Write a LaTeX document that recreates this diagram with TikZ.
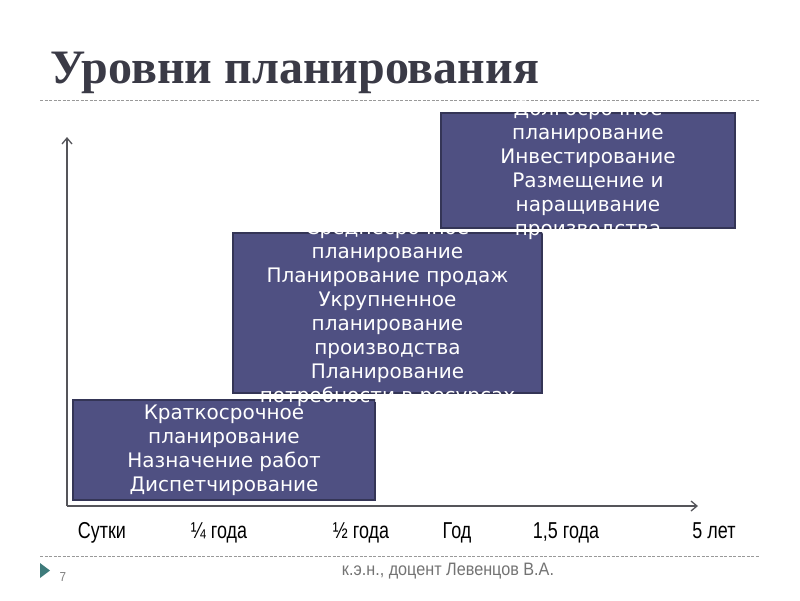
\documentclass[tikz,border=0pt]{standalone}
\usepackage{fontspec}
\usetikzlibrary{arrows.meta}
\newfontfamily\boxfont{DejaVu Sans}
\newfontfamily\titlefont{Liberation Serif}
\newfontfamily\narrowfont[FakeStretch=0.78]{Liberation Sans}
\newfontfamily\footfont[FakeStretch=0.9]{Liberation Sans}
\definecolor{boxfill}{RGB}{79,80,130}
\definecolor{boxline}{RGB}{52,53,86}
\definecolor{axisgray}{RGB}{85,85,90}
\definecolor{titlegray}{RGB}{58,58,70}
\definecolor{teal}{RGB}{62,123,123}
\begin{document}
\begin{tikzpicture}[x=1pt,y=-1pt,
  >={Straight Barb[length=6pt,width=10pt]},
  levelbox/.style={draw=boxline,fill=boxfill,line width=1.6pt,inner sep=0pt},
  leveltext/.style={text=white,align=center,inner sep=0pt,font=\boxfont\fontsize{20}{24}\selectfont},
  scalelabel/.style={anchor=base,text=black,font=\narrowfont\fontsize{23}{26}\selectfont},
  rule/.style={draw=gray!80,line width=0.8pt,dash pattern=on 3pt off 1.5pt}]
\useasboundingbox (0,0) rectangle (800,600);
\node[anchor=base west,text=titlegray,font=\titlefont\bfseries\fontsize{48}{54}\selectfont] (title) at (47,83) {Уровни планирования};
\draw[rule] (40,100) -- (760,100);
\coordinate (origin) at (67,506);
\coordinate (ytop) at (67,137);
\coordinate (xend) at (698,506);
\draw[->,axisgray,line width=1.3pt] (origin) -- (ytop);
\draw[->,axisgray,line width=1.3pt] (origin) -- (xend);
\node[levelbox,minimum width=302pt,minimum height=100pt] (shortbox) at (224,450) {};
\node[leveltext] (shorttext) at (shortbox) {Краткосрочное\\планирование\\Назначение работ\\Диспетчирование};
\node[levelbox,minimum width=309pt,minimum height=160pt] (midbox) at (387.5,313) {};
\node[leveltext] (midtext) at (midbox) {Среднесрочное\\планирование\\Планирование продаж\\Укрупненное\\планирование\\производства\\Планирование\\потребности в ресурсах};
\node[levelbox,minimum width=294pt,minimum height=115pt] (longbox) at (588,170.5) {};
\node[leveltext] (longtext) at (longbox) {Долгосрочное\\планирование\\Инвестирование\\Размещение и\\наращивание\\производства};
\node[scalelabel] (day) at (102,538) {Сутки};
\node[scalelabel] (quarter) at (219,538) {¼ года};
\node[scalelabel] (half) at (361,538) {½ года};
\node[scalelabel] (year) at (457,538) {Год};
\node[scalelabel] (yearhalf) at (566,538) {1,5 года};
\node[scalelabel] (fiveyears) at (714,538) {5 лет};
\draw[rule] (40,556) -- (760,556);
\fill[teal] (40,563) -- (50,570.5) -- (40,578) -- cycle;
\node[text=gray,font=\footfont\fontsize{13}{15}\selectfont] (pagenum) at (63,577) {7};
\node[text=gray!90!black,font=\footfont\fontsize{18}{20}\selectfont] (author) at (448,571) {к.э.н., доцент Левенцов В.А.};
\end{tikzpicture}
\end{document}
